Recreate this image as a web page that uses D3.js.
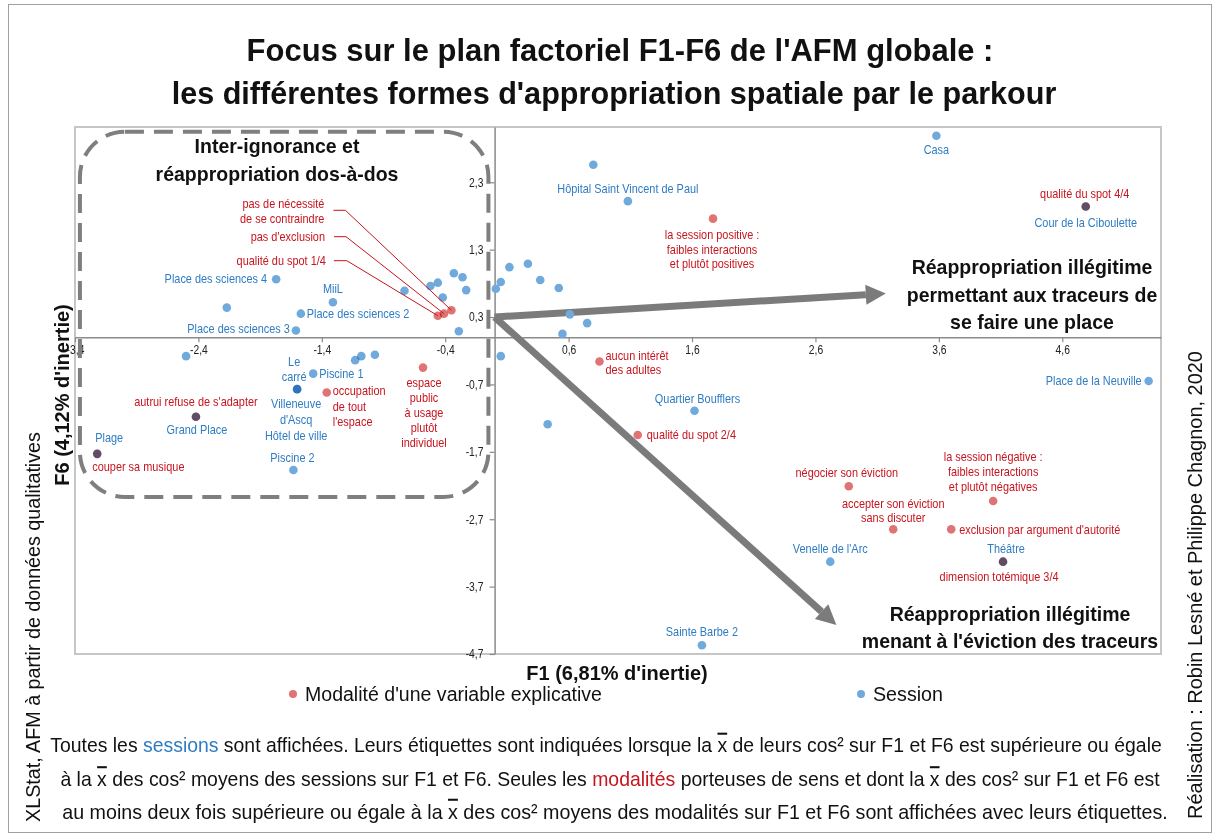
<!DOCTYPE html>
<html><head><meta charset="utf-8">
<script src="https://cdn.jsdelivr.net/npm/d3@7"></script>
<style>
body{margin:0;background:#fff;}
svg text{font-family:'Liberation Sans',Arial,sans-serif;}
</style></head><body>
<svg id="chart" width="1215" height="834"></svg>
<script>
// ---- Sessions (coordonnées sur F1 et F6) ----
const sessionNames = [
  "Place des sciences 4", "", "Place des sciences 2", "MiiL", "Place des sciences 3",
  "", "", "", "", "", "", "", "", "", "", "", "", "", "", "", "", "", "", "",
  "Piscine 1", "Le\ncarré", "Villeneuve\nd'Ascq\nHôtel de ville", "", "", "",
  "Grand Place", "Plage", "Piscine 2", "Hôpital Saint Vincent de Paul", "", "Casa",
  "Cour de la Ciboulette", "Place de la Neuville", "Quartier Boufflers", "",
  "Venelle de l'Arc", "Théâtre", "Sainte Barbe 2"
];
const sessionF1 = [
  -1.77, -2.17, -1.57, -1.31, -1.61,
  -0.73, -0.52, -0.46, -0.42, -0.33, -0.26, -0.23, -0.29, 0.01, 0.05, 0.12, 0.27, 0.37, 0.52, 0.61, 0.75, 0.55, 0.05, -2.50,
  -1.47, -1.60, -1.60, -1.13, -1.08, -0.97,
  -2.42, -3.22, -1.63, 1.08, 0.80, 3.58,
  4.79, 5.30, 1.62, 0.43,
  2.72, 4.12, 1.68
];
const sessionF6 = [
  0.86, 0.44, 0.35, 0.52, 0.10,
  0.69, 0.76, 0.81, 0.59, 0.95, 0.89, 0.70, 0.09, 0.72, 0.82, 1.04, 1.09, 0.85, 0.73, 0.34, 0.21, 0.05, -0.28, -0.28,
  -0.54, -0.77, -0.77, -0.34, -0.28, -0.26,
  -1.18, -1.73, -1.97, 2.02, 2.56, 2.99,
  1.94, -0.65, -1.09, -1.29,
  -3.33, -3.33, -4.57
];

// ---- Modalités des variables explicatives ----
const modalityNames = [
  "pas de nécessité\nde se contraindre", "pas d'exclusion", "qualité du spot 1/4",
  "espace\npublic\nà usage\nplutôt\nindividuel", "occupation\nde tout\nl'espace",
  "autrui refuse de s'adapter", "couper sa musique",
  "la session positive :\nfaibles interactions\net plutôt positives", "qualité du spot 4/4",
  "aucun intérêt\ndes adultes", "qualité du spot 2/4", "négocier son éviction",
  "accepter son éviction\nsans discuter", "exclusion par argument d'autorité",
  "la session négative :\nfaibles interactions\net plutôt négatives", "dimension totémique 3/4"
];
const modalityF1 = [-0.35, -0.41, -0.46, -0.58, -1.36, -2.42, -3.22, 1.77, 4.79, 0.85, 1.16, 2.87, 3.23, 3.70, 4.04, 4.12];
const modalityF6 = [0.40, 0.35, 0.32, -0.45, -0.82, -1.18, -1.73, 1.76, 1.94, -0.36, -1.45, -2.21, -2.85, -2.85, -2.43, -3.33];

// ---- Graduations ----
const xTicks = [-3.4, -2.4, -1.4, -0.4, 0.6, 1.6, 2.6, 3.6, 4.6];
const yTicks = [2.3, 1.3, 0.3, -0.7, -1.7, -2.7, -3.7, -4.7];

// ---- Annotations (unités des axes) ----
const zoneF1 = [-3.36, -0.05];
const zoneF6 = [3.05, -2.37];
const arrowStart = [0, 0.3];
const arrowEnds = [[3.17, 0.65], [2.77, -4.27]];

// ---- Placement des étiquettes (décalages en px) ----
const sessionLabelLayout = {
  "Place des sciences 4": {a: "end", dx: -9, dy: 0},
  "Place des sciences 2": {a: "start", dx: 6, dy: 0},
  "MiiL": {a: "middle", dx: 0, dy: -13},
  "Place des sciences 3": {a: "end", dx: -6, dy: -2},
  "Piscine 1": {a: "start", dx: 6, dy: 0},
  "Le\ncarré": {a: "middle", dx: -3, dy: -27, lh: 15},
  "Villeneuve\nd'Ascq\nHôtel de ville": {a: "middle", dx: -1, dy: 15, lh: 15.7},
  "Grand Place": {a: "middle", dx: 1, dy: 13},
  "Plage": {a: "middle", dx: 12, dy: -16},
  "Piscine 2": {a: "middle", dx: -1, dy: -12},
  "Hôpital Saint Vincent de Paul": {a: "middle", dx: 0, dy: -12},
  "Casa": {a: "middle", dx: 0, dy: 14},
  "Cour de la Ciboulette": {a: "middle", dx: 0, dy: 16},
  "Place de la Neuville": {a: "end", dx: -7, dy: 0},
  "Quartier Boufflers": {a: "middle", dx: 3, dy: -12},
  "Venelle de l'Arc": {a: "middle", dx: 0, dy: -13},
  "Théâtre": {a: "middle", dx: 3, dy: -13},
  "Sainte Barbe 2": {a: "middle", dx: 0, dy: -13}
};
const modalityLabelLayout = {
  "pas de nécessité\nde se contraindre": {a: "end", dx: -127, dy: -106, lh: 15, leader: [[-106, -100], [-118, -100]]},
  "pas d'exclusion": {a: "end", dx: -119, dy: -77, leader: [[-98, -77], [-110, -77]]},
  "qualité du spot 1/4": {a: "end", dx: -112, dy: -55, leader: [[-91, -55], [-104, -55]]},
  "espace\npublic\nà usage\nplutôt\nindividuel": {a: "middle", dx: 1, dy: 15, lh: 15},
  "occupation\nde tout\nl'espace": {a: "start", dx: 6, dy: -1.5, lh: 15.5},
  "autrui refuse de s'adapter": {a: "middle", dx: 0, dy: -15},
  "couper sa musique": {a: "start", dx: -5, dy: 13},
  "la session positive :\nfaibles interactions\net plutôt positives": {a: "middle", dx: -1, dy: 16, lh: 14.7},
  "qualité du spot 4/4": {a: "middle", dx: -1, dy: -13},
  "aucun intérêt\ndes adultes": {a: "start", dx: 6, dy: -6, lh: 14.3},
  "qualité du spot 2/4": {a: "start", dx: 9, dy: 0},
  "négocier son éviction": {a: "middle", dx: -2, dy: -13},
  "accepter son éviction\nsans discuter": {a: "middle", dx: 0, dy: -26, lh: 15},
  "exclusion par argument d'autorité": {a: "start", dx: 8, dy: 0},
  "la session négative :\nfaibles interactions\net plutôt négatives": {a: "middle", dx: 0, dy: -44, lh: 15},
  "dimension totémique 3/4": {a: "middle", dx: -4, dy: 15}
};

const C = {
  sessionDot: "#70aadc", sessionText: "#2e7cc4",
  modDot: "#e07474", modText: "#c8141e",
  axis: "#8a8a8a", frame: "#c6c6c6", arrow: "#7b7b7b", zone: "#7f7f7f"
};

const svg = d3.select("#chart");
const x = d3.scaleLinear().domain([-3.4, 5.4]).range([75, 1161]);
const y = d3.scaleLinear().domain([-4.7, 3.12]).range([654, 127]);
const fmt = d => d3.format(".1f")(d).replace(".", ",").replace("−", "-");

// Text helper: lines centred on y, horizontally condensed by k (or fitted to a width)
function ctext(parent, px, py, lines, o) {
  const g = parent.append("g").attr("transform", `translate(${px},${py})` + (o.rot ? ` rotate(${o.rot})` : ""));
  const inner = g.append("g");
  const t = inner.append("text").attr("font-size", o.size).attr("fill", o.color || "#111")
    .attr("font-weight", o.bold ? "bold" : null)
    .attr("text-anchor", o.anchor || "middle").attr("dominant-baseline", "central");
  lines.forEach((ln, i) => t.append("tspan").attr("x", 0).attr("y", i * (o.lh || 0)).text(ln));
  let k = o.k || 1;
  if (o.fit) k = o.fit / t.node().getComputedTextLength();
  inner.attr("transform", `scale(${k},1)`);
  return t;
}

// outer frame
svg.append("rect").attr("x", 8.5).attr("y", 4.5).attr("width", 1203).attr("height", 828)
  .attr("fill", "none").attr("stroke", "#a0a0a0").attr("stroke-width", 1);

// title
ctext(svg, 620, 50, ["Focus sur le plan factoriel F1-F6 de l'AFM globale :"], {size: 31, bold: true, fit: 747});
ctext(svg, 614, 93, ["les différentes formes d'appropriation spatiale par le parkour"], {size: 31, bold: true, fit: 885});

// plot frame
svg.append("rect").attr("x", x(-3.4)).attr("y", y(3.12)).attr("width", x(5.4) - x(-3.4))
  .attr("height", y(-4.7) - y(3.12)).attr("fill", "none").attr("stroke", C.frame).attr("stroke-width", 2);

// axes through the origin
const tickK = 0.86;
const xAxis = svg.append("g").attr("transform", `translate(0,${y(0)})`)
  .call(d3.axisBottom(x).tickValues(xTicks).tickFormat(fmt).tickSizeInner(5).tickSizeOuter(0).tickPadding(3));
const yAxis = svg.append("g").attr("transform", `translate(${x(0)},0)`)
  .call(d3.axisLeft(y).tickValues(yTicks).tickFormat(fmt).tickSizeInner(5).tickSizeOuter(0).tickPadding(8));
[xAxis, yAxis].forEach(g => {
  g.select(".domain").attr("stroke", C.axis).attr("stroke-width", 1.5);
  g.selectAll(".tick line").attr("stroke", C.axis).attr("stroke-width", 1.2);
  g.selectAll(".tick text").attr("font-size", 12).attr("fill", "#222")
    .attr("font-family", "'Liberation Sans',Arial,sans-serif")
    .attr("transform", `scale(${tickK},1)`);
});

// dashed zone
svg.append("rect")
  .attr("x", x(zoneF1[0])).attr("y", y(zoneF6[0]))
  .attr("width", x(zoneF1[1]) - x(zoneF1[0])).attr("height", y(zoneF6[1]) - y(zoneF6[0]))
  .attr("rx", 45).attr("ry", 45).attr("fill", "none")
  .attr("stroke", C.zone).attr("stroke-width", 4).attr("stroke-dasharray", "19 10");

// arrows
arrowEnds.forEach(e => {
  const x0 = x(arrowStart[0]), y0 = y(arrowStart[1]), x1 = x(e[0]), y1 = y(e[1]);
  const ang = Math.atan2(y1 - y0, x1 - x0), L = 20, W = 10;
  const bx = x1 - L * Math.cos(ang), by = y1 - L * Math.sin(ang);
  svg.append("line").attr("x1", x0).attr("y1", y0).attr("x2", bx).attr("y2", by)
    .attr("stroke", C.arrow).attr("stroke-width", 7);
  const px = -Math.sin(ang), py = Math.cos(ang);
  svg.append("path").attr("fill", C.arrow)
    .attr("d", `M${x1},${y1}L${bx + W * px},${by + W * py}L${bx - W * px},${by - W * py}Z`);
});

// points (multiply blending darkens coincident session / modality points)
const sessions = sessionNames.map((n, i) => ({name: n, f1: sessionF1[i], f6: sessionF6[i]}));
const modalities = modalityNames.map((n, i) => ({name: n, f1: modalityF1[i], f6: modalityF6[i]}));
const dots = svg.append("g").style("isolation", "isolate");
dots.selectAll("circle.m").data(modalities).join("circle").attr("class", "m")
  .attr("cx", d => x(d.f1)).attr("cy", d => y(d.f6)).attr("r", 4.3)
  .attr("fill", C.modDot).style("mix-blend-mode", "multiply");
dots.selectAll("circle.s").data(sessions).join("circle").attr("class", "s")
  .attr("cx", d => x(d.f1)).attr("cy", d => y(d.f6)).attr("r", 4.3)
  .attr("fill", C.sessionDot).style("mix-blend-mode", "multiply");

// leader lines
modalities.forEach(d => {
  const L = modalityLabelLayout[d.name];
  if (!L || !L.leader) return;
  const px = x(d.f1), py = y(d.f6);
  const pts = [[px, py], [px + L.leader[0][0], py + L.leader[0][1]], [px + L.leader[1][0], py + L.leader[1][1]]];
  svg.append("path").attr("d", d3.line()(pts)).attr("fill", "none")
    .attr("stroke", C.modText).attr("stroke-width", 1);
});

// labels
const labelK = 0.91;
function drawLabels(items, layout, color) {
  items.forEach(d => {
    if (!d.name) return;
    const L = layout[d.name];
    if (!L) return;
    ctext(svg, x(d.f1) + L.dx, y(d.f6) + L.dy, d.name.split("\n"),
      {size: 12, color: color, anchor: L.a, lh: L.lh || 15, k: labelK});
  });
}
drawLabels(sessions, sessionLabelLayout, C.sessionText);
drawLabels(modalities, modalityLabelLayout, C.modText);

// zone headings
const headK = 0.93;
ctext(svg, 277, 146, ["Inter-ignorance et", "réappropriation dos-à-dos"], {size: 21, bold: true, lh: 27.5, k: headK});
ctext(svg, 1032, 267, ["Réappropriation illégitime", "permettant aux traceurs de", "se faire une place"], {size: 21, bold: true, lh: 27.5, k: headK});
ctext(svg, 1010, 614, ["Réappropriation illégitime", "menant à l'éviction des traceurs"], {size: 21, bold: true, lh: 27, k: headK});

// axis titles
ctext(svg, 617, 673, ["F1 (6,81% d'inertie)"], {size: 20, bold: true});
ctext(svg, 62, 395, ["F6 (4,12% d'inertie)"], {size: 20, bold: true, rot: -90});

// legend
const legend = [{label: "Modalité d'une variable explicative", color: C.modDot, x: 293, w: 297},
                {label: "Session", color: C.sessionDot, x: 861, w: 70}];
legend.forEach(l => {
  svg.append("circle").attr("cx", l.x).attr("cy", 694).attr("r", 4).attr("fill", l.color);
  ctext(svg, l.x + 12, 694, [l.label], {size: 20, anchor: "start", fit: l.w});
});

// footnote
const foot = [
  [["Toutes les ", null], ["sessions", "#2e7cc4"], [" sont affichées. Leurs étiquettes sont indiquées lorsque la ", null], ["x", "bar"], [" de leurs cos² sur F1 et F6 est supérieure ou égale", null]],
  [["à la ", null], ["x", "bar"], [" des cos² moyens des sessions sur F1 et F6. Seules les ", null], ["modalités", "#c8141e"], [" porteuses de sens et dont la ", null], ["x", "bar"], [" des cos² sur F1 et F6 est", null]],
  [["au moins deux fois supérieure ou égale à la ", null], ["x", "bar"], [" des cos² moyens des modalités sur F1 et F6 sont affichées avec leurs étiquettes.", null]]
];
const footX = [606, 610, 615], footW = [1112, 1100, 1106];
foot.forEach((parts, k) => {
  const g = svg.append("g").attr("transform", `translate(${footX[k]},${745 + k * 33.5})`);
  const inner = g.append("g");
  const t = inner.append("text").attr("text-anchor", "middle").attr("dominant-baseline", "central")
    .attr("font-size", 20.5).attr("fill", "#111");
  parts.forEach(p => {
    const s = t.append("tspan").text(p[0]);
    if (p[1] === "bar") s.style("text-decoration", "overline");
    else if (p[1]) s.attr("fill", p[1]);
  });
  inner.attr("transform", `scale(${footW[k] / t.node().getComputedTextLength()},1)`);
});

// side notes
ctext(svg, 33, 627, ["XLStat, AFM à partir de données qualitatives"], {size: 20, rot: -90, fit: 390});
ctext(svg, 1195, 585, ["Réalisation : Robin Lesné et Philippe Chagnon, 2020"], {size: 20, rot: -90, fit: 468});
</script>
</body></html>
